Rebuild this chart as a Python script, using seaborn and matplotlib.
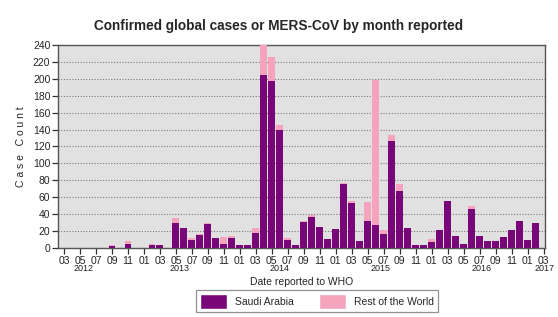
import numpy as np
import pandas as pd
import seaborn as sns
import matplotlib
matplotlib.use("Agg")
import matplotlib.pyplot as plt
from matplotlib.patches import Patch

# Monthly MERS-CoV cases, March 2012 .. February 2017
month_index = list(range(60))
saudi = [0, 0, 0, 0, 0, 0, 2, 0, 5, 0,
         0, 3, 3, 0, 30, 23, 9, 15, 28, 12,
         5, 12, 3, 3, 18, 204, 198, 140, 9, 4,
         31, 37, 25, 10, 22, 75, 53, 8, 32, 27,
         16, 127, 67, 24, 4, 4, 7, 21, 55, 14,
         5, 46, 14, 8, 8, 13, 21, 32, 9, 30]
rest = [0, 0, 0, 0, 0, 0, 1, 0, 3, 0,
        0, 2, 1, 0, 5, 1, 3, 2, 1, 0,
        8, 2, 1, 0, 5, 38, 28, 5, 3, 0,
        1, 2, 0, 0, 0, 2, 2, 0, 22, 172,
        5, 7, 9, 0, 0, 0, 4, 0, 0, 0,
        0, 3, 0, 0, 0, 0, 0, 0, 0, 0]

tick_labels = ["03", "05", "07", "09", "11", "01"] * 5 + ["03"]
year_labels = ["2012", "2013", "2014", "2015", "2016", "2017"]
year_pos = [2.4, 14.5, 27.0, 39.6, 52.3, 60.1]

purple = "#790679"
pink = "#f6a3bd"

df = pd.DataFrame({"month": month_index, "Saudi Arabia": saudi, "Rest of the World": rest})
df["total"] = df["Saudi Arabia"] + df["Rest of the World"]

sns.set_style("ticks")
plt.rcParams["font.family"] = ["Liberation Sans", "DejaVu Sans"]

fig = plt.figure(figsize=(5.58, 3.17), dpi=100)
ax = fig.add_axes([0.104, 0.218, 0.873, 0.640])
ax.set_facecolor("#e1e1e1")

# stacked look: totals in pink, Saudi part drawn over it in purple
sns.barplot(data=df, x="month", y="total", native_scale=True, color=pink,
            width=0.86, saturation=1, errorbar=None, linewidth=0, ax=ax, zorder=3)
sns.barplot(data=df, x="month", y="Saudi Arabia", native_scale=True, color=purple,
            width=0.86, saturation=1, errorbar=None, linewidth=0, ax=ax, zorder=4)

ax.set_xlim(-0.75, 60.2)
ax.set_ylim(0, 240)
ax.set_yticks(np.arange(0, 241, 20))
ax.yaxis.grid(True, linestyle=(0, (1, 1.5)), color="#7a7a7a", linewidth=0.8, zorder=1)
ax.set_axisbelow(True)
ax.set_xticks(np.arange(0, 61, 2))
ax.set_xticklabels(tick_labels)
ax.tick_params(axis="both", labelsize=7.5, length=4, width=0.9, color="#333333", pad=1.5)
for s in ax.spines.values():
    s.set_color("#555555")
    s.set_linewidth(1.0)

for lab, xp in zip(year_labels, year_pos):
    ax.text(xp, -0.08, lab, transform=ax.get_xaxis_transform(), ha="center", va="top",
            fontsize=6.5, color="#222222")

ax.set_xlabel("Date reported to WHO", fontsize=7.5, labelpad=8)
ax.set_ylabel("C a s e   C o u n t", fontsize=7.5, labelpad=5)

fig.suptitle("Confirmed global cases or MERS-CoV by month reported",
             x=0.5, y=0.94, fontsize=9.8, fontweight="bold")

handles = [Patch(facecolor=purple, label="Saudi Arabia"),
           Patch(facecolor=pink, label="Rest of the World")]
leg = fig.legend(handles=handles, loc="center", bbox_to_anchor=(0.568, 0.05), ncol=2,
                 fontsize=7.5, frameon=True, fancybox=False, edgecolor="#777777",
                 handlelength=2.6, handleheight=1.8, columnspacing=2.4, borderpad=0.35,
                 handletextpad=0.8)
leg.get_frame().set_linewidth(0.9)

fig.savefig("out.png", dpi=100)
